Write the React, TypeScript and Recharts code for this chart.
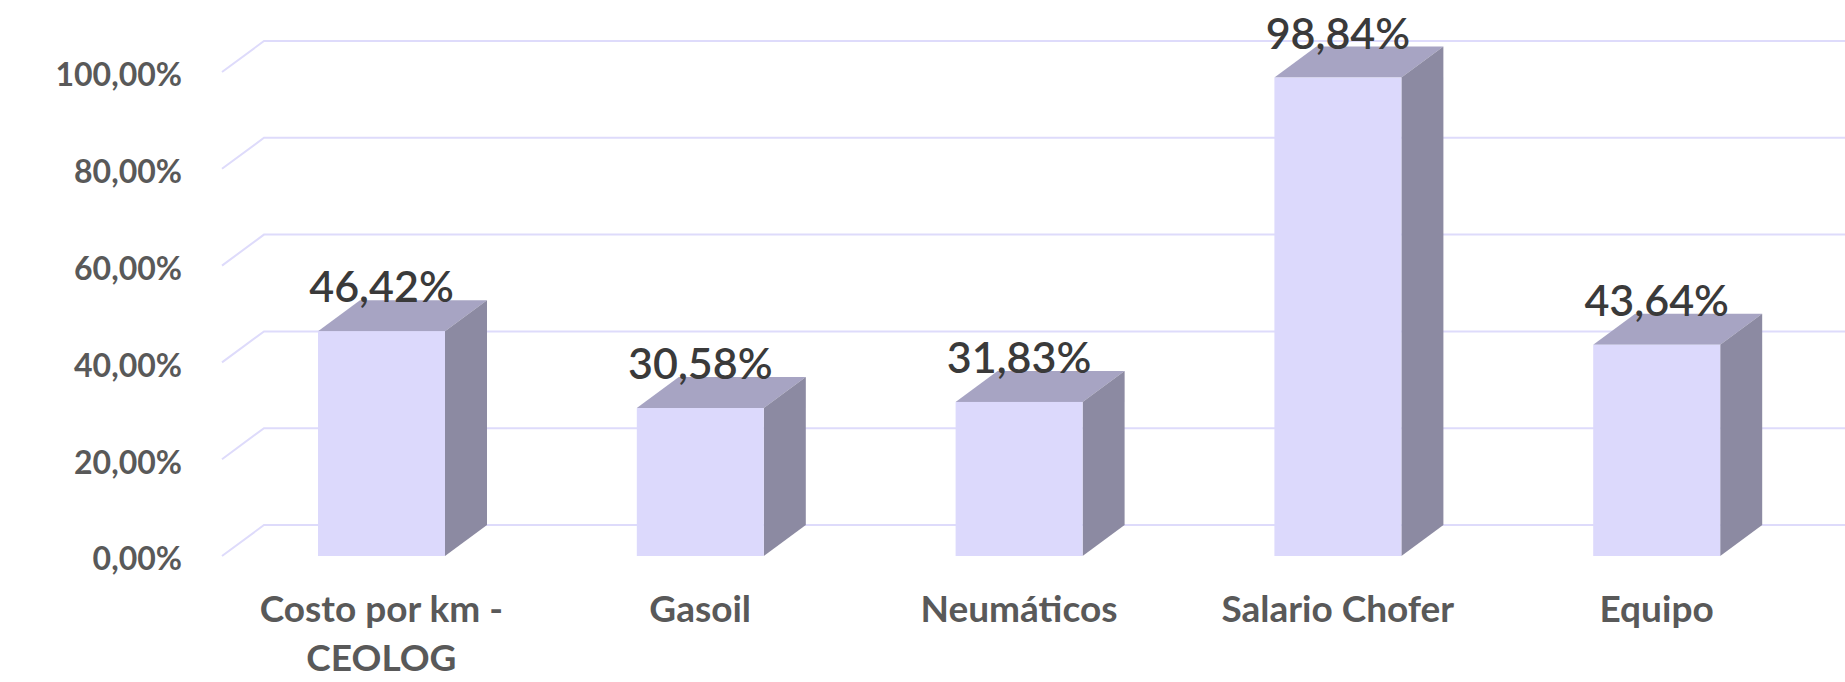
import React from "react";
import { BarChart, Bar, XAxis, YAxis, CartesianGrid, LabelList } from "recharts";

// category labels, already broken into lines like the original
const categoryLines: string[][] = [
  ["Costo por km -", "CEOLOG"],
  ["Gasoil"],
  ["Neumáticos"],
  ["Salario Chofer"],
  ["Equipo"],
];
const categories = categoryLines.map((l) => l.join(" "));
const values = [46.42, 30.58, 31.83, 98.84, 43.64];
const yTicks = [0, 20, 40, 60, 80, 100];

const chartData = categories.map((name, i) => ({ name, value: values[i] }));

// fake 3d depth
const DX = 42;
const DY = 31;

const FRONT = "#dcd9fc";
const TOP = "#a7a4c3";
const SIDE = "#8c8aa2";
const GRID = "#dedbfb";
const FONT = "Lato, 'Open Sans', sans-serif";

function formatPct(v: number): string {
  return `${v.toFixed(2).replace(".", ",")}%`;
}

function Box3D(props: any) {
  const { x, y, width, height } = props;
  if (height == null || width == null) return null;
  const r = x + width;
  const b = y + height;
  return (
    <g>
      <polygon points={`${x},${y} ${r},${y} ${r + DX},${y - DY} ${x + DX},${y - DY}`} fill={TOP} />
      <polygon points={`${r},${y} ${r + DX},${y - DY} ${r + DX},${b - DY} ${r},${b}`} fill={SIDE} />
      <rect x={x} y={y} width={width} height={height} fill={FRONT} />
    </g>
  );
}

function GridLine(props: any) {
  const { x1, x2, y1, index } = props;
  return (
    <path
      key={`g-${index}`}
      d={`M${x1},${y1} L${x1 + DX},${y1 - DY} L${x2 + DX},${y1 - DY}`}
      stroke={GRID}
      strokeWidth={2}
      fill="none"
    />
  );
}

function CategoryTick(props: any) {
  const { x, y, index } = props;
  const lines = categoryLines[index] ?? [];
  return (
    <text
      x={x}
      y={y}
      textAnchor="middle"
      fill="#595959"
      fontFamily={FONT}
      fontWeight="bold"
      fontSize={37}
    >
      {lines.map((line, i) => (
        <tspan key={line} x={x} dy={i === 0 ? 66 : 49}>
          {line}
        </tspan>
      ))}
    </text>
  );
}

function ValueLabel(props: any) {
  const { x, y, width, value } = props;
  return (
    <text
      x={x + width / 2}
      y={y - 29}
      textAnchor="middle"
      fill="#3a3a3a"
      fontFamily={FONT}
      fontWeight={600}
      fontSize={43}
    >
      {formatPct(Number(value))}
    </text>
  );
}

export default function App() {
  return (
    <div style={{ position: "absolute", left: 0, top: 0, background: "#fff" }}>
      <BarChart
        width={1845}
        height={682}
        data={chartData}
        margin={{ top: 72, right: 29, left: 0, bottom: 0 }}
        barCategoryGap={0}
      >
        <CartesianGrid vertical={false} horizontal={GridLine} />
        <XAxis
          dataKey="name"
          axisLine={false}
          tickLine={false}
          tickSize={0}
          tickMargin={0}
          height={126}
          interval={0}
          tick={<CategoryTick />}
        />
        <YAxis
          domain={[0, 100]}
          ticks={yTicks}
          width={222}
          axisLine={false}
          tickLine={false}
          tickSize={0}
          tickMargin={40}
          tickFormatter={formatPct}
          tick={{ fill: "#595959", fontSize: 32, fontWeight: "bold", fontFamily: FONT, dy: 3 }}
        />
        <Bar dataKey="value" barSize={127} shape={<Box3D />} isAnimationActive={false}>
          <LabelList dataKey="value" content={<ValueLabel />} />
        </Bar>
      </BarChart>
    </div>
  );
}
